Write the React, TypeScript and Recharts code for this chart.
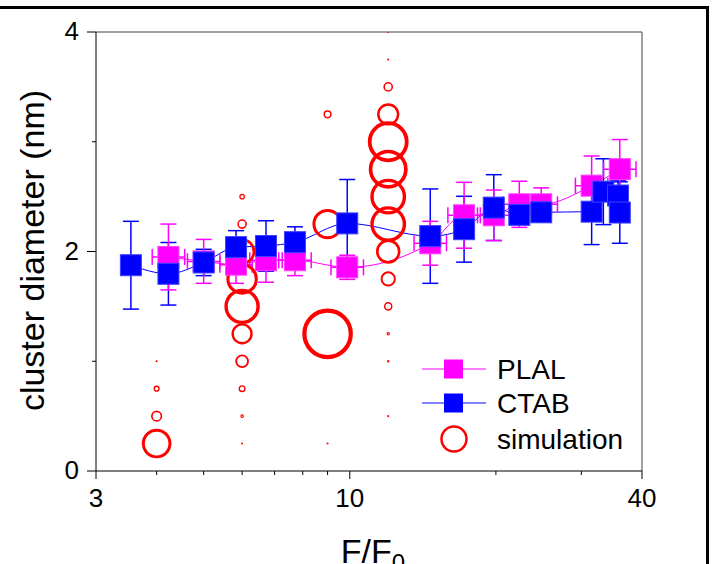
import React from 'react';
import {
  ComposedChart,
  Line,
  Scatter,
  XAxis,
  YAxis,
  ErrorBar,
  ReferenceLine,
  Legend,
} from 'recharts';

const FONT = '"Liberation Sans", Arial, sans-serif';
const MAGENTA = '#ff00ff';
const BLUE = '#0000ff';
const RED = '#ff0000';

// axis ticks
const xTicks = [3, 4, 5, 6, 7, 8, 9, 10, 20, 30, 40];
const xMajor = [3, 10, 40];
const yTicks = [0, 1, 2, 3, 4];
const yMajor = [0, 2, 4];

// PLAL series
const plalX = [4.23, 5.0, 5.83, 6.72, 7.71, 9.88, 14.65, 17.2, 19.8, 22.35, 24.8, 31.5, 36.0];
const plalY = [1.95, 1.91, 1.88, 1.92, 1.92, 1.856, 2.075, 2.33, 2.33, 2.43, 2.43, 2.6, 2.75];
const plalErr = [0.3, 0.2, 0.17, 0.2, 0.14, 0.11, 0.2, 0.3, 0.23, 0.21, 0.15, 0.27, 0.27];
const plalXErrPct = 8;

// CTAB series
const ctabX = [3.54, 4.23, 5.0, 5.83, 6.72, 7.71, 9.88, 14.65, 17.2, 19.8, 22.35, 24.8, 31.5, 33.3, 35.7, 36.0];
const ctabY = [1.875, 1.797, 1.9, 2.04, 2.05, 2.085, 2.256, 2.14, 2.203, 2.4, 2.334, 2.357, 2.363, 2.545, 2.51, 2.355];
const ctabErr = [0.4, 0.285, 0.12, 0.15, 0.23, 0.14, 0.4, 0.43, 0.3, 0.3, 0.08, 0.07, 0.3, 0.3, 0.14, 0.28];

// simulation (bubble weight = relative abundance)
const simX = [
  4, 4, 4, 4,
  6, 6, 6, 6, 6, 6, 6, 6, 6, 6,
  9, 9, 9, 9,
  12, 12, 12, 12, 12, 12, 12, 12, 12, 12, 12, 12, 12, 12,
];
const simY = [
  0.25, 0.5, 0.75, 1.0,
  0.25, 0.5, 0.75, 1.0, 1.25, 1.5, 1.75, 2.0, 2.25, 2.5,
  0.25, 1.25, 2.25, 3.25,
  0.5, 1.0, 1.25, 1.5, 1.75, 2.0, 2.25, 2.5, 2.75, 3.0, 3.25, 3.5, 3.75, 4.0,
];
const simW = [
  30, 4.3, 1.3, 0.15,
  0.07, 0.45, 1.7, 6.4, 15.5, 43, 34, 24, 3.2, 1.1,
  0.15, 88, 31.5, 2.3,
  0.09, 0.2, 0.42, 2.5, 8, 20.5, 44, 44, 52, 57, 17, 3.2, 0.15, 0.07,
];

const legendItems = ['PLAL', 'CTAB', 'simulation'];

const plalData = plalX.map((x, i) => ({
  x,
  y: plalY[i],
  ey: plalErr[i],
  ex: [x - x / (1 + plalXErrPct / 100), x * (plalXErrPct / 100)],
}));
const ctabData = ctabX.map((x, i) => ({ x, y: ctabY[i], ey: ctabErr[i] }));
const simData = simX.map((x, i) => ({ x, y: simY[i], w: simW[i] }));

const XTick = (props: any) => {
  const { x, y, payload } = props;
  const v = payload.value;
  const major = xMajor.includes(v);
  return (
    <g>
      <line x1={x} x2={x} y1={y} y2={y + (major ? 8 : 4)} stroke="#000" strokeWidth={1} />
      {major && (
        <text x={x} y={y + 36} textAnchor="middle" fontSize={26} fill="#000" fontFamily={FONT}>
          {v}
        </text>
      )}
    </g>
  );
};

const YTick = (props: any) => {
  const { x, y, payload } = props;
  const v = payload.value;
  const major = yMajor.includes(v);
  return (
    <g>
      <line x1={x} x2={x - (major ? 9 : 4)} y1={y} y2={y} stroke="#000" strokeWidth={1} />
      {major && (
        <text x={x - 17} y={y + 8} textAnchor="end" fontSize={26} fill="#000" fontFamily={FONT}>
          {v}
        </text>
      )}
    </g>
  );
};

const XLabel = (props: any) => {
  const vb = props.viewBox || {};
  const cx = vb.x + vb.width / 2 + 4;
  return (
    <text x={cx} y={563} textAnchor="middle" fontSize={34} fill="#000" fontFamily={FONT}>
      F/F
      <tspan fontSize={24} dy={8}>0</tspan>
    </text>
  );
};

const YLabel = (props: any) => {
  const vb = props.viewBox || {};
  const cy = vb.y + vb.height / 2 - 1;
  const lx = 44;
  return (
    <text
      x={lx}
      y={cy}
      transform={`rotate(-90, ${lx}, ${cy})`}
      textAnchor="middle"
      fontSize={34}
      fill="#000"
      fontFamily={FONT}
    >
      cluster diameter (nm)
    </text>
  );
};

const Square = (color: string, edge: string) => (p: any) => {
  if (p.cx == null || p.cy == null) return <g />;
  return (
    <rect x={p.cx - 10.5} y={p.cy - 10.5} width={21} height={21} fill={color} stroke={edge} strokeWidth={1} />
  );
};

const NoShape = () => <g />;

const Bubble = (p: any) => {
  if (p.cx == null || p.cy == null) return <g />;
  const w = p.payload ? p.payload.w : 0;
  const rOuter = 27 * Math.sqrt(w / 100);
  const sw = Math.min(0.9 + rOuter * 0.14, 4.2);
  return (
    <circle
      cx={p.cx}
      cy={p.cy}
      r={Math.max(rOuter - sw / 2, 0.5)}
      fill="none"
      stroke={RED}
      strokeWidth={sw}
    />
  );
};

const LegendContent = () => {
  const colors = [MAGENTA, BLUE, RED];
  return (
    <svg width={240} height={110} style={{ display: 'block' }}>
      {legendItems.map((name, i) => {
        const cy = [19, 53, 89][i];
        return (
          <g key={name}>
            {i < 2 ? (
              <>
                <line x1={7} x2={71} y1={cy} y2={cy} stroke={colors[i]} strokeWidth={1} />
                <rect x={29} y={cy - 9.5} width={19} height={19} fill={colors[i]} />
              </>
            ) : (
              <circle cx={39} cy={cy} r={12.5} fill="none" stroke={RED} strokeWidth={2.5} />
            )}
            <text x={82} y={cy + 10} fontSize={28} fill="#000" fontFamily={FONT}>
              {name}
            </text>
          </g>
        );
      })}
    </svg>
  );
};

export default function App() {
  return (
    <div
      style={{
        position: 'absolute',
        left: 0,
        top: 0,
        width: 716,
        height: 564,
        overflow: 'hidden',
        background: '#fff',
        fontFamily: FONT,
      }}
    >
      <ComposedChart width={716} height={564} margin={{ top: 32, right: 74, left: 0, bottom: 0 }}>
        <XAxis
          dataKey="x"
          type="number"
          scale="log"
          domain={[3, 40]}
          allowDataOverflow
          ticks={xTicks}
          interval={0}
          tick={<XTick />}
          tickLine={false}
          tickSize={0}
          tickMargin={0}
          height={93}
          axisLine={{ stroke: '#000', strokeWidth: 1 }}
          label={<XLabel />}
        />
        <YAxis
          dataKey="y"
          type="number"
          domain={[0, 4]}
          allowDataOverflow
          ticks={yTicks}
          interval={0}
          tick={<YTick />}
          tickLine={false}
          tickSize={0}
          tickMargin={0}
          width={96}
          axisLine={{ stroke: '#000', strokeWidth: 1 }}
          label={<YLabel />}
        />
        <ReferenceLine y={4} stroke="#808080" strokeWidth={1.5} />
        <ReferenceLine x={40} stroke="#808080" strokeWidth={1.5} />

        <Scatter
          name="simulation"
          data={simData}
          shape={Bubble}
          isAnimationActive={false}
          legendType="none"
        />
        <Line
          data={plalData}
          dataKey="y"
          type="monotoneX"
          stroke={MAGENTA}
          strokeWidth={1}
          dot={false}
          activeDot={false}
          isAnimationActive={false}
          legendType="none"
        />
        <Line
          data={ctabData}
          dataKey="y"
          type="monotoneX"
          stroke={BLUE}
          strokeWidth={1}
          dot={false}
          activeDot={false}
          isAnimationActive={false}
          legendType="none"
        />
        <Scatter name="PLAL" data={plalData} shape={Square(MAGENTA, '#ff40ff')} isAnimationActive={false} />
        <Scatter name="CTAB" data={ctabData} shape={Square(BLUE, '#4040ff')} isAnimationActive={false}>
          <ErrorBar dataKey="ey" direction="y" width={8} stroke={BLUE} strokeWidth={1.5} />
        </Scatter>
        <Scatter data={plalData} shape={NoShape} isAnimationActive={false} legendType="none">
          <ErrorBar dataKey="ey" direction="y" width={8} stroke={MAGENTA} strokeWidth={1.5} />
          <ErrorBar dataKey="ex" direction="x" width={8} stroke={MAGENTA} strokeWidth={1.5} />
        </Scatter>
        <Legend
          layout="vertical"
          align="center"
          verticalAlign="middle"
          content={<LegendContent />}
          wrapperStyle={{ left: 415, top: 350, width: 240, height: 110 }}
        />
      </ComposedChart>
      <div
        style={{
          position: 'absolute',
          left: -10,
          top: 6,
          width: 719,
          height: 620,
          boxSizing: 'border-box',
          border: '3px solid #000',
          pointerEvents: 'none',
        }}
      />
    </div>
  );
}
